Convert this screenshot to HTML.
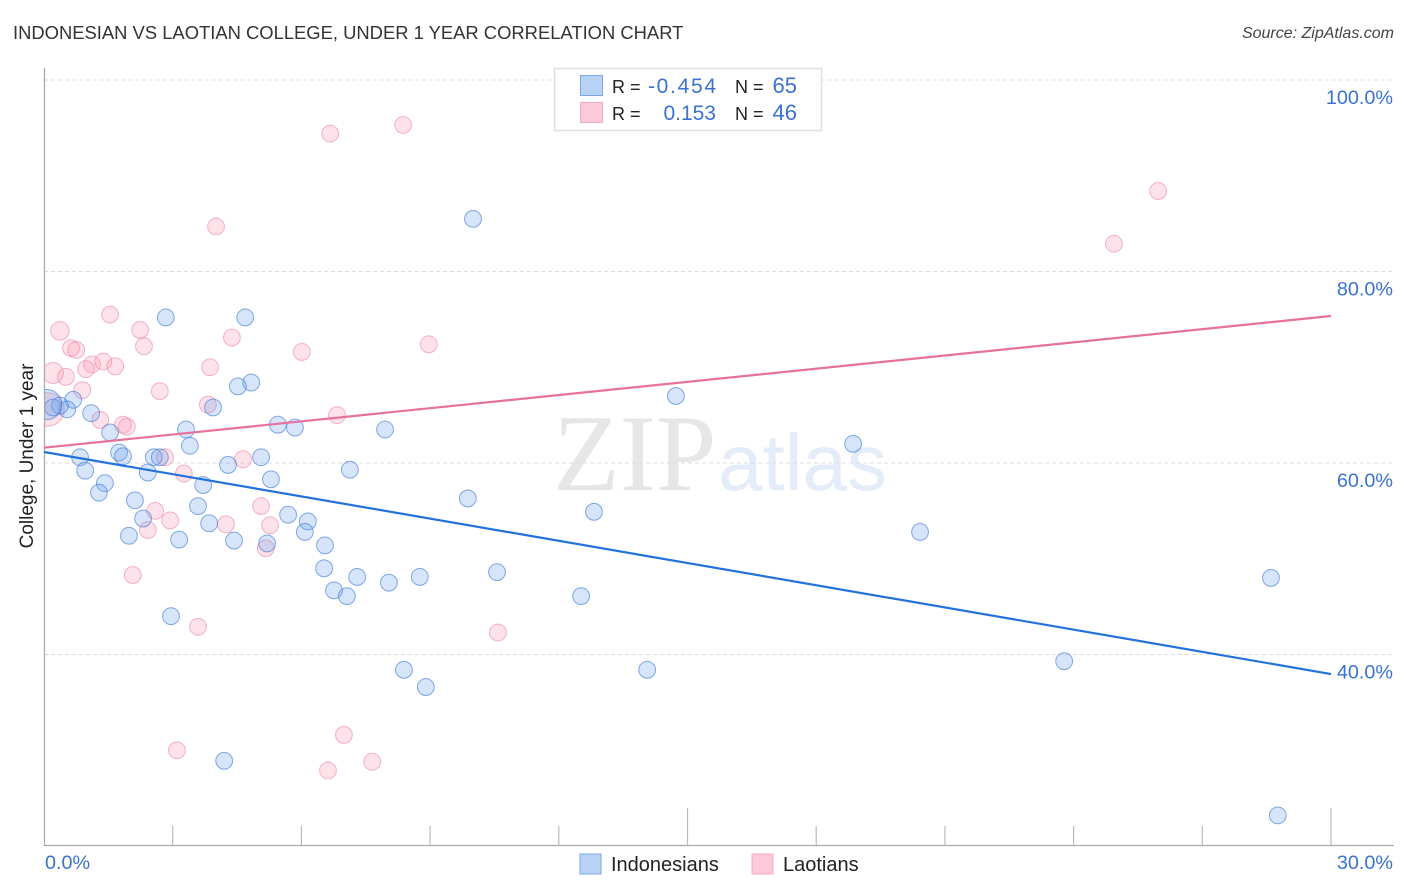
<!DOCTYPE html>
<html lang="en">
<head>
<meta charset="utf-8">
<title>Indonesian vs Laotian College, Under 1 Year Correlation Chart</title>
<style>
html,body{margin:0;padding:0;background:#fff;}
body{width:1406px;height:892px;overflow:hidden;}
svg{display:block;font-family:"Liberation Sans",sans-serif;}
</style>
</head>
<body>
<svg id="chart" width="1406" height="892" viewBox="0 0 1406 892" xmlns="http://www.w3.org/2000/svg">
  <defs>
    <clipPath id="plot-clip"><rect x="45" y="60" width="1349" height="785"/></clipPath>
  </defs>
  <text x="13" y="39" font-size="18.4" fill="#333">INDONESIAN VS LAOTIAN COLLEGE, UNDER 1 YEAR CORRELATION CHART</text>
  <text x="1394" y="38" font-size="16" font-style="italic" fill="#444" text-anchor="end">Source: ZipAtlas.com</text>

  <g>
    <text x="553" y="490" font-family="'Liberation Serif',serif" font-size="109" fill="#e6e6e6">ZIP</text>
    <text x="718" y="490" font-size="80" fill="#e4ecf9">atlas</text>
  </g>

  <g id="grid"></g>
  <g id="axes"></g>
  <g id="points" clip-path="url(#plot-clip)"></g>
  <g id="trends"></g>
  <g id="labels"></g>

  <text transform="translate(33,456) rotate(-90)" font-size="19" fill="#222" text-anchor="middle">College, Under 1 year</text>

  <g>
    <rect x="554.5" y="68.5" width="267" height="62" fill="#fff" stroke="#e0e0e0" stroke-width="1.5"/>
    <rect x="580.5" y="75.5" width="22" height="20" fill="#b7d2f5" stroke="#7aa9e6" stroke-width="1"/>
    <rect x="580.5" y="102.5" width="22" height="20" fill="#fcc9da" stroke="#f3a9c3" stroke-width="1"/>
    <text x="612" y="93" font-size="18" fill="#222">R =</text>
    <text x="648" y="93" font-size="21" fill="#3a72d0" textLength="68" lengthAdjust="spacing">-0.454</text>
    <text x="735" y="93" font-size="18" fill="#222">N =</text>
    <text x="797" y="93" font-size="22" fill="#3a72d0" text-anchor="end">65</text>
    <text x="612" y="120" font-size="18" fill="#222">R =</text>
    <text x="716" y="120" font-size="21" fill="#3a72d0" text-anchor="end">0.153</text>
    <text x="735" y="120" font-size="18" fill="#222">N =</text>
    <text x="797" y="120" font-size="22" fill="#3a72d0" text-anchor="end">46</text>
  </g>

  <g>
    <rect x="580" y="854" width="21" height="20" fill="#b7d2f5" stroke="#7aa9e6" stroke-width="1"/>
    <text x="611" y="871" font-size="20" fill="#222">Indonesians</text>
    <rect x="752" y="854" width="21" height="20" fill="#fcc9da" stroke="#f3a9c3" stroke-width="1"/>
    <text x="783" y="871" font-size="20" fill="#222">Laotians</text>
  </g>
</svg>
<script>
// Data (x: % scale 0-30, y: College under 1 year %)
const indonesianX = [10.0,2.84,4.69,4.83,4.52,14.73,3.94,0.68,0.54,0.37,0.21,1.10,5.45,5.85,7.95,3.31,1.54,3.40,18.86,1.75,1.84,0.84,2.56,2.70,5.06,4.29,0.96,2.42,7.13,5.29,1.42,3.71,1.28,2.12,9.88,3.59,12.82,5.69,2.31,3.85,6.15,6.08,20.42,1.98,3.15,4.43,5.2,6.55,6.53,10.56,7.3,8.76,28.6,8.04,6.76,7.06,12.52,2.96,8.39,14.06,23.78,8.9,4.2,28.76,0.06];
const indonesianY = [85.5,75.2,75.2,68.4,68.0,67.0,65.8,66.6,65.6,66.0,65.8,65.2,64.0,63.7,63.5,63.5,63.2,61.8,62.0,61.1,60.7,60.6,60.6,60.6,60.6,59.8,59.2,59.0,59.3,58.3,57.9,57.7,56.9,56.1,56.3,55.5,54.9,54.6,54.2,53.7,53.9,52.8,52.8,52.4,52.0,51.9,51.6,51.4,49.0,48.6,48.1,48.1,48.0,47.5,46.7,46.1,46.1,44.0,38.4,38.4,39.3,36.6,28.9,23.2,66.1];
const indonesianSize = [1,1,1,1,1,1,1,1,1,1,1,1,1,1,1,1,1,1,1,1,1,1,1,1,1,1,1,1,1,1,1,1,1,1,1,1,1,1,1,1,1,1,1,1,1,1,1,1,1,1,1,1,1,1,1,1,1,1,1,1,1,1,1,1,1.8];

const laotianX = [8.37,6.67,25.97,4.01,24.94,1.54,0.37,2.24,2.33,4.38,8.97,0.63,0.75,6.01,0.21,0.51,0.98,1.12,1.38,1.66,3.87,0.89,2.70,3.82,6.83,1.31,1.84,1.93,2.82,4.64,3.26,5.06,2.59,2.94,4.24,5.27,2.42,5.17,2.07,3.59,10.58,3.10,6.99,7.65,6.62,0.08];
const laotianY = [95.3,94.4,88.4,84.7,82.9,75.5,73.8,73.9,72.2,73.1,72.4,72.0,71.8,71.6,69.4,69.0,69.8,70.3,70.6,70.1,70.0,67.6,67.5,66.1,65.0,64.5,64.0,63.8,60.6,60.4,58.9,55.5,55.0,54.0,53.6,53.5,53.0,51.1,48.3,42.9,42.3,30.0,31.6,28.8,27.9,65.6];
const laotianSize = [1,1,1,1,1,1,1.1,1,1,1,1,1,1,1,1.25,1,1,1,1,1,1,1,1,1,1,1,1,1,1,1,1,1,1,1,1,1,1,1,1,1,1,1,1,1,1,2.0];

const trendXRange = [0, 30];
const indonesianTrendY = [61.15, 37.96];
const laotianTrendY = [61.6, 75.35];

const yTickValues = [100, 80, 60, 40];
const yTickLabels = ['100.0%', '80.0%', '60.0%', '40.0%'];
const xTickValues = [0, 3, 6, 9, 12, 15, 18, 21, 24, 27, 30];
const xMajorTicks = [15, 30];
const xEndLabels = ['0.0%', '30.0%'];

// Axis functions
const plotLeft = 44, plotRight = 1331, y100 = 80, pxPerPct = 9.575;
function sx(v) { return plotLeft + (v / 30) * (plotRight - plotLeft); }
function sy(v) { return y100 + (100 - v) * pxPerPct; }

const NS = 'http://www.w3.org/2000/svg';
function make(tag, parent, attrs) {
  const el = document.createElementNS(NS, tag);
  for (const k in attrs) el.setAttribute(k, attrs[k]);
  parent.appendChild(el);
  return el;
}

const grid = document.getElementById('grid');
const axes = document.getElementById('axes');
const pts = document.getElementById('points');
const trends = document.getElementById('trends');
const labels = document.getElementById('labels');

yTickValues.forEach(function (v, i) {
  const line = make('line', grid, {x1: 44, x2: 1394, y1: sy(v), y2: sy(v), stroke: '#dcdcdc', 'stroke-width': 1, 'stroke-dasharray': '4 3'});
  
  
  const t = make('text', labels, {x: 1393, y: sy(v) + 24, 'font-size': 19.8, fill: '#3a72d0', 'text-anchor': 'end'});
  
  
  t.textContent = yTickLabels[i];
});

const yAxis = make('line', axes, {x1: 44.5, x2: 44.5, y1: 68, y2: 846, stroke: '#aaa', 'stroke-width': 1.3});


const xAxis = make('line', axes, {x1: 44, x2: 1394, y1: 845.5, y2: 845.5, stroke: '#aaa', 'stroke-width': 1.3});



xTickValues.forEach(function (v) {
  if (v === 0) return;
  const major = xMajorTicks.indexOf(v) >= 0;
  const tick = make('line', axes, {x1: sx(v), x2: sx(v), y1: major ? 808 : 826, y2: 845, stroke: '#bbb', 'stroke-width': 1.2});
  
  
});

const x0Label = make('text', labels, {x: 45, y: 869, 'font-size': 19.8, fill: '#3a72d0'});


x0Label.textContent = xEndLabels[0];
const x1Label = make('text', labels, {x: 1393, y: 869, 'font-size': 19.8, fill: '#3a72d0', 'text-anchor': 'end'});


x1Label.textContent = xEndLabels[1];

const baseRadius = 8.4;
laotianX.forEach(function (x, i) {
  const c = make('circle', pts, {cx: sx(x), cy: sy(laotianY[i]), r: baseRadius * laotianSize[i], fill: 'rgba(250,150,180,0.28)', stroke: 'rgba(236,130,165,0.6)', 'stroke-width': 1});
  
  
});
indonesianX.forEach(function (x, i) {
  const c = make('circle', pts, {cx: sx(x), cy: sy(indonesianY[i]), r: baseRadius * indonesianSize[i], fill: 'rgba(105,160,235,0.27)', stroke: 'rgba(60,120,215,0.62)', 'stroke-width': 1});
  
  
});

const laotianLine = make('line', trends, {x1: sx(trendXRange[0]), y1: sy(laotianTrendY[0]), x2: sx(trendXRange[1]), y2: sy(laotianTrendY[1]), stroke: '#e8709f', 'stroke-width': 2.2});


const indonesianLine = make('line', trends, {x1: sx(trendXRange[0]), y1: sy(indonesianTrendY[0]), x2: sx(trendXRange[1]), y2: sy(indonesianTrendY[1]), stroke: '#2272dc', 'stroke-width': 2.2});


</script>
</body>
</html>
